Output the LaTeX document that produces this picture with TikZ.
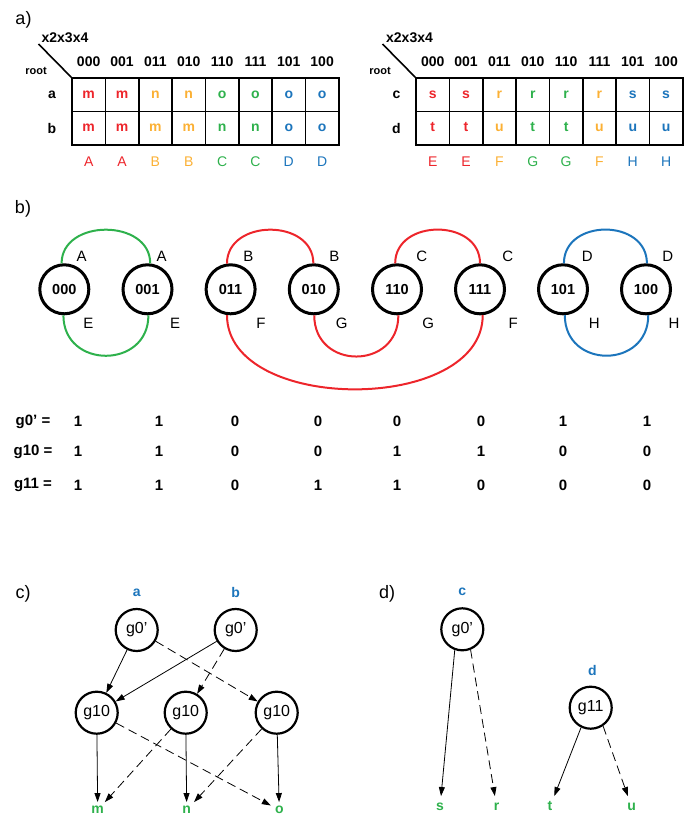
\documentclass[tikz,border=0pt]{standalone}
\usepackage{fontspec}
\setmainfont{Liberation Sans}
\usetikzlibrary{arrows.meta,calc}

\definecolor{cred}{RGB}{237,37,43}
\definecolor{cyel}{RGB}{251,176,52}
\definecolor{cgrn}{RGB}{46,177,76}
\definecolor{cblu}{RGB}{28,117,188}

\begin{document}
\begin{tikzpicture}[
        x=1pt, y=-1pt,
        every node/.style={align=center, inner sep=0pt},
        paneltxt/.style={font=\fontsize{18}{18}\selectfont},
        headtxt/.style={font=\fontsize{14}{14}\selectfont\bfseries},
        smalltxt/.style={font=\fontsize{11}{11}\selectfont\bfseries},
        cellbox/.style={draw, line width=1.6pt, minimum width=33.35pt, minimum height=33.5pt,
            text height=7.5pt, text depth=0pt, font=\fontsize{14}{14}\selectfont\bfseries},
        grptxt/.style={font=\fontsize{14}{14}\selectfont},
        bitnode/.style={circle, draw, line width=3pt, minimum size=49pt, font=\fontsize{14.5}{14.5}\selectfont\bfseries},
        arcs/.style={line width=2pt},
        arclbl/.style={font=\fontsize{15}{15}\selectfont},
        gtxt/.style={font=\fontsize{15}{15}\selectfont\bfseries},
        gnode/.style={circle, draw, line width=2.2pt, minimum size=42pt, font=\fontsize{16}{16}\selectfont},
        leaftxt/.style={inner sep=4pt, text height=7.5pt, text depth=0pt, text=cgrn, font=\fontsize{14}{14}\selectfont\bfseries},
        roottxt/.style={text=cblu, font=\fontsize{14}{14}\selectfont\bfseries},
    ]
    \tikzstyle{hi}=[line width=0.8pt, -{Triangle[length=9pt,width=6pt]}]
    \tikzstyle{lo}=[hi, dash pattern=on 9pt off 5pt]
    \useasboundingbox (0,0) rectangle (693,818);

    % a)
    \node[paneltxt] (pa) at (23.5,20) {a)};
    \node[headtxt] (avars) at (65,37.5) {x2x3x4};
    \node[smalltxt] (aroot) at (36,71) {root};
    \node[headtxt] (arowa) at (52,95) {a};
    \node[headtxt] (arowb) at (52,128.5) {b};
    \foreach \bits/\ra/\rb/\grp/\col [count=\i] in {000/m/m/A/cred, 001/m/m/A/cred, 011/n/m/B/cyel, 010/n/m/B/cyel,
            110/o/n/C/cgrn, 111/o/n/C/cgrn, 101/o/o/D/cblu, 100/o/o/D/cblu}{
        \node[headtxt] (ah-\i) at ({72+33.35*(\i-0.5)},62) {\bits};
        \node[cellbox, text=\col] (aa-\i) at ({72+33.35*(\i-0.5)},94.75) {\ra};
        \node[cellbox, text=\col] (ab-\i) at ({72+33.35*(\i-0.5)},128.25) {\rb};
        \node[grptxt, text=\col] (ag-\i) at ({72+33.35*(\i-0.5)},162) {\grp};
    }
    \coordinate (atip) at (38.5,44);
    \draw[line width=1.6pt] (atip) -- (aa-1.north west);

    \node[headtxt] (bvars) at (409.5,37.5) {x2x3x4};
    \node[smalltxt] (broot) at (380,71) {root};
    \node[headtxt] (browc) at (396.5,95) {c};
    \node[headtxt] (browd) at (396.5,128.5) {d};
    \foreach \bits/\rc/\rd/\grp/\col [count=\i] in {000/s/t/E/cred, 001/s/t/E/cred, 011/r/u/F/cyel, 010/r/t/G/cgrn,
            110/r/t/G/cgrn, 111/r/u/F/cyel, 101/s/u/H/cblu, 100/s/u/H/cblu}{
        \node[headtxt] (bh-\i) at ({416+33.35*(\i-0.5)},62) {\bits};
        \node[cellbox, text=\col] (bc-\i) at ({416+33.35*(\i-0.5)},94.75) {\rc};
        \node[cellbox, text=\col] (bd-\i) at ({416+33.35*(\i-0.5)},128.25) {\rd};
        \node[grptxt, text=\col] (bg-\i) at ({416+33.35*(\i-0.5)},162) {\grp};
    }
    \coordinate (btip) at (382.5,44);
    \draw[line width=1.6pt] (btip) -- (bc-1.north west);

    % b)
    \node[paneltxt] (pb) at (23,209) {b)};
    \foreach \bits/\x in {000/64.3, 001/147.5, 011/230.6, 010/313.8, 110/397, 111/480, 101/563, 100/646}
        \node[bitnode] (b\bits) at (\x,289.3) {\bits};
    \draw[arcs, cgrn] (b000.96) .. controls +(0,-45) and +(0,-45) .. (b001.84);
    \draw[arcs, cgrn] (b000.268) .. controls +(0,54) and +(0,54) .. (b001.272);
    \draw[arcs, cred] (b011.98) .. controls +(0,-45) and +(0,-45) .. (b010.91);
    \draw[arcs, cred] (b110.94) .. controls +(0,-45) and +(0,-45) .. (b111.90);
    \draw[arcs, cred] (b010.271) .. controls +(0,55) and +(0,55) .. (b110.273);
    \draw[arcs, cred] (b011.262) .. controls +(0,99) and +(0,99) .. (b111.276);
    \draw[arcs, cblu] (b101.88) .. controls +(0,-45) and +(0,-45) .. (b100.88);
    \draw[arcs, cblu] (b101.274) .. controls +(0,54) and +(0,54) .. (b100.275);
    \foreach \name/\txt/\x/\y in {tA1/A/81.7/256, tA2/A/161.7/256, tE1/E/88.3/323, tE2/E/175/323,
            tB1/B/248.3/256, tB2/B/334.3/256, tF1/F/261/323, tG1/G/341.7/323,
            tC1/C/421.7/256, tC2/C/507.7/256, tG2/G/428.3/323, tF2/F/513.3/323,
            tD1/D/587.3/256, tD2/D/667.7/256, tH1/H/594.3/323, tH2/H/674/323}
        \node[arclbl] (\name) at (\x,\y) {\txt};

    % truth table
    \node[gtxt] (gr0) at (33,421.7) {g0' =};
    \node[gtxt] (gr1) at (33,451.7) {g10 =};
    \node[gtxt] (gr2) at (33,485) {g11 =};
    \foreach \x/\u/\v/\w [count=\i] in {78/1/1/1, 159/1/1/1, 235/0/0/0, 318/0/0/1,
            397/0/1/1, 481/0/1/0, 563/1/0/0, 647/1/0/0}{
        \node[gtxt] (gv0-\i) at (\x,421.7) {\u};
        \node[gtxt] (gv1-\i) at (\x,451.7) {\v};
        \node[gtxt] (gv2-\i) at (\x,485) {\w};
    }

    % c)
    \node[paneltxt] (pc) at (23,594) {c)};
    \node[roottxt] (la) at (136.7,592.7) {a};
    \node[roottxt] (lb) at (235.7,592.7) {b};
    \node[gnode] (ca) at (136.7,630) {g0'};
    \node[gnode] (cb) at (235.7,630) {g0'};
    \node[gnode] (c10a) at (96.7,712.7) {g10};
    \node[gnode] (c10b) at (185.7,712.7) {g10};
    \node[gnode] (c10c) at (276.7,712.7) {g10};
    \node[leaftxt] (cm) at (97.7,810) {m};
    \node[leaftxt] (cn) at (186.7,810) {n};
    \node[leaftxt] (co) at (279.3,810) {o};
    \draw[hi] (ca) -- (c10a);
    \draw[lo] (ca) -- (c10c);
    \draw[hi] (cb) -- (c10a);
    \draw[lo] (cb) -- (c10b);
    \draw[hi] (c10a) -- (cm);
    \draw[lo] (c10a) -- (co);
    \draw[hi] (c10b) -- (cn);
    \draw[lo] (c10b) -- (cm);
    \draw[hi] (c10c) -- (co);
    \draw[lo] (c10c) -- (cn);

    % d)
    \node[paneltxt] (pd) at (387,594) {d)};
    \node[roottxt] (lc) at (462.3,592) {c};
    \node[roottxt] (ld) at (592.3,670) {d};
    \node[gnode] (dc) at (462.3,629.3) {g0'};
    \node[gnode] (dd) at (590.7,707.7) {g11};
    \node[leaftxt, inner sep=7pt] (ds) at (440,807) {s};
    \node[leaftxt, inner sep=7pt] (dr) at (496.7,807) {r};
    \node[leaftxt, inner sep=7pt] (dt) at (550,807) {t};
    \node[leaftxt, inner sep=7pt] (du) at (631.7,807) {u};
    \draw[hi] (dc.250) -- (ds);
    \draw[lo] (dc.292) -- (dr);
    \draw[hi] (dd.244) -- (dt);
    \draw[lo] (dd.304) -- (du);
\end{tikzpicture}
\end{document}
